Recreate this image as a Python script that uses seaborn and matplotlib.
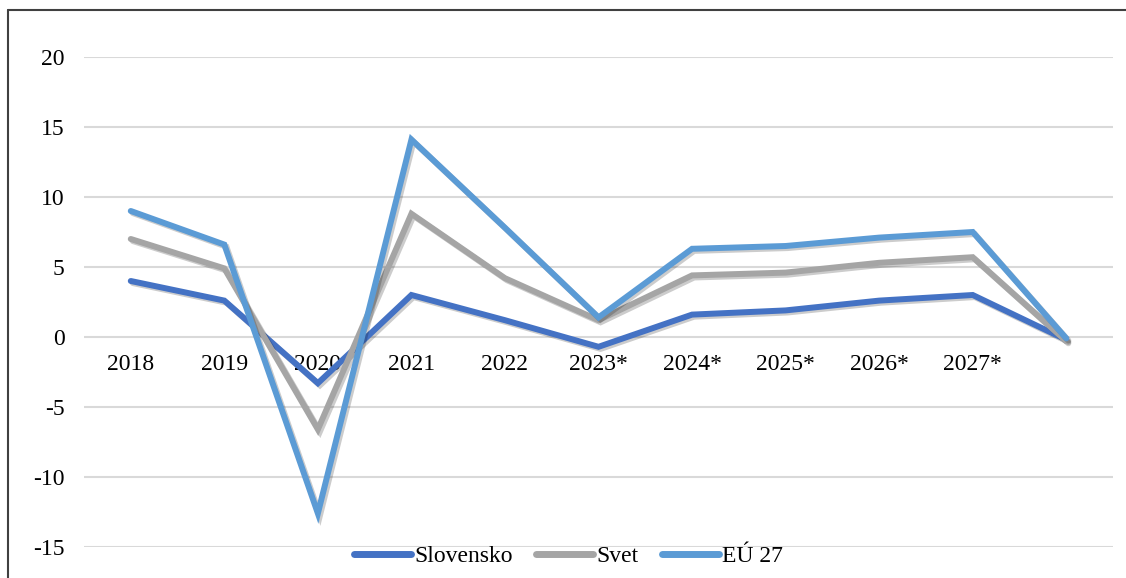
import pandas as pd
import seaborn as sns
import matplotlib.pyplot as plt
import matplotlib.patheffects as pe
from matplotlib.lines import Line2D

years = ['2018', '2019', '2020', '2021', '2022', '2023*', '2024*', '2025*', '2026*', '2027*', '']
slovensko = [4.0, 2.6, -3.3, 3.0, 1.2, -0.7, 1.6, 1.9, 2.6, 3.0, -0.2]
svet = [7.0, 4.9, -6.6, 8.8, 4.2, 1.2, 4.4, 4.6, 5.3, 5.7, -0.3]
eu27 = [9.0, 6.6, -12.6, 14.1, 7.8, 1.4, 6.3, 6.5, 7.1, 7.5, -0.1]

series_names = ['Slovensko', 'Svet', 'EÚ 27']
colors = ['#4472C4', '#A5A5A5', '#5B9BD5']

df = pd.concat([
    pd.DataFrame({'rok': years, 'hodnota': vals, 'rad': name})
    for name, vals in zip(series_names, [slovensko, svet, eu27])
], ignore_index=True)

sns.set_style('white')
plt.rcParams['font.family'] = ['Liberation Serif', 'DejaVu Serif']
plt.rcParams['axes.unicode_minus'] = False
plt.rcParams['text.color'] = 'black'
plt.rcParams['xtick.color'] = 'black'
plt.rcParams['ytick.color'] = 'black'

fig = plt.figure(figsize=(11.26, 5.78), dpi=100)
ax = fig.add_axes([0.0746, 0.0536, 0.9139, 0.8478])

sns.lineplot(data=df, x='rok', y='hodnota', hue='rad', palette=colors,
             sort=False, linewidth=4.3, ax=ax, legend=False)

shadow = [pe.SimpleLineShadow(offset=(1.5, -1.5), shadow_color='black', alpha=0.2), pe.Normal()]
for line in ax.lines:
    line.set_path_effects(shadow)
    line.set_solid_joinstyle('miter')
    line.set_solid_capstyle('round')

ax.set_ylim(-15, 20)
ax.set_xlim(-0.5, len(years) - 0.5)
ax.set_yticks(range(-15, 21, 5))
ax.grid(axis='y', color='#d9d9d9', linewidth=1.5)
ax.set_axisbelow(True)
for s in ax.spines.values():
    s.set_visible(False)
ax.spines['bottom'].set_position(('data', 0))
ax.tick_params(axis='both', length=0, labelsize=17, labelcolor='black')
ax.tick_params(axis='y', pad=14)
ax.tick_params(axis='x', pad=12)
ax.set_xlabel('')
ax.set_ylabel('')

handles = [Line2D([0], [0], color=c, linewidth=5, solid_capstyle='round') for c in colors]
fig.legend(handles, series_names, loc='center', bbox_to_anchor=(0.505, 0.038), ncol=3,
           frameon=False, fontsize=17, handlelength=2.4, handletextpad=0.15, columnspacing=1.0)

# outer frame (left and top only)
fig.add_artist(Line2D([0.0075, 0.0075], [0.0, 0.983], color='#404040', linewidth=1.5))
fig.add_artist(Line2D([0.0075, 1.0], [0.983, 0.983], color='#404040', linewidth=1.5))

fig.savefig('out.png', dpi=100)
